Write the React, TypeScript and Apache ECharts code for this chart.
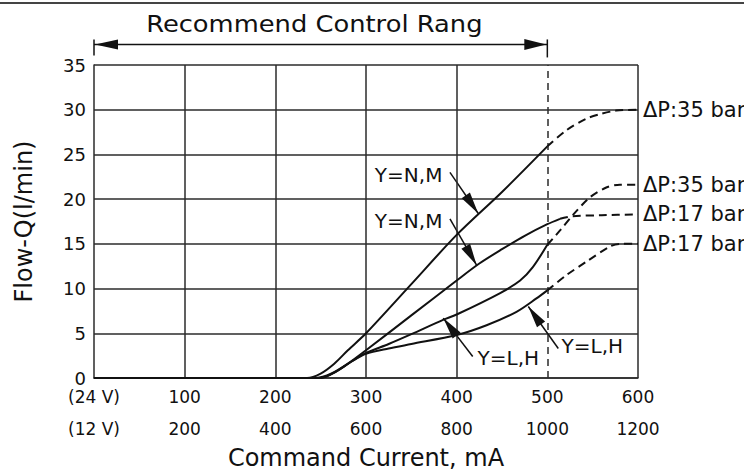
import React, { useEffect, useRef } from "react";
import * as echarts from "echarts";

// ---- tick labels ----
const xTickRow1 = ["(24 V)", "100", "200", "300", "400", "500", "600"];
const xTickRow2 = ["(12 V)", "200", "400", "600", "800", "1000", "1200"];

// ---- curves: [current mA (24 V scale), flow l/min] ----
const curveASolid = [[0, 0], [235, 0], [250, 0.5], [265, 1.6], [280, 3.1], [300, 5.0], [350, 10.5], [400, 16.0], [450, 20.8], [500, 25.9]];
const curveADashed = [[500, 25.9], [521, 27.7], [543, 29.0], [558, 29.5], [576, 29.9], [600, 30.0]];

const curveBSolid = [[0, 0], [245, 0], [262, 0.5], [280, 1.6], [300, 3.1], [350, 7.0], [400, 10.9], [425, 12.8], [450, 14.4], [475, 15.9], [500, 17.2], [514, 17.8]];
const curveBDashed = [[514, 17.8], [528, 18.1], [560, 18.2], [600, 18.3]];

const curveCSolid = [[0, 0], [250, 0], [265, 0.6], [285, 1.9], [300, 2.8], [325, 3.8], [350, 4.9], [385, 6.5], [400, 7.1], [448, 9.5], [470, 10.9], [484, 12.4], [500, 14.9]];
const curveCDashed = [[500, 14.9], [514, 16.5], [528, 18.2], [547, 20.2], [565, 21.3], [580, 21.6], [600, 21.6]];

const curveDSolid = [[0, 0], [250, 0], [265, 0.6], [285, 1.9], [300, 2.7], [325, 3.3], [350, 3.8], [400, 4.8], [433, 5.9], [466, 7.4], [488, 8.9], [500, 9.8]];
const curveDDashed = [[500, 9.8], [521, 11.5], [543, 13.0], [569, 14.7], [580, 15.0], [600, 15.0]];

const endLabelA = "ΔP:35 bar";
const endLabelB = "ΔP:17 bar";
const endLabelC = "ΔP:35 bar";
const endLabelD = "ΔP:17 bar";

// ---- vertical grid lines (current values) ----
const verticalGridValues = [100, 200, 300, 400, 500, 600];
const dashedGridValue = 500;

// ---- recommended range ----
const rangeStart = 0;
const rangeEnd = 500;
const rangeArrowLevel = 37.3;
const rangeTitleAt = 243;
const rangeTitle = "Recommend Control Rang";

// ---- annotations (data units) ----
const annotationLabels = ["Y=N,M", "Y=N,M", "Y=L,H", "Y=L,H"];
const annotationTextAt = [[347, 22.7], [347, 17.6], [457, 2.2], [549.6, 3.6]];
const annotationFrom = [[392.6, 23.0], [392.6, 17.8], [417.7, 2.4], [512.1, 3.3]];
const annotationTo = [[423.8, 18.4], [422.1, 12.6], [385.2, 6.7], [479, 8.0]];

export default function App() {
  const ref = useRef<HTMLDivElement>(null);

  useEffect(() => {
    const chart = echarts.init(ref.current!, null, { renderer: "svg" });
    const font = "DejaVu Sans";
    const ink = "#111";
    const gridInk = "#2b2b2b";

    const solid = (name: string, data: number[][]) => ({
      type: "line",
      name,
      data,
      smooth: 0.3,
      symbol: "none",
      silent: true,
      z: 3,
      lineStyle: { color: ink, width: 2 },
    });
    const dashed = (name: string, data: number[][], label: string) => ({
      ...solid(name, data),
      lineStyle: { color: ink, width: 2, type: [8, 5] },
      endLabel: {
        show: true,
        formatter: label,
        distance: 5,
        fontSize: 21,
        fontFamily: font,
        color: ink,
      },
    });

    const xBase = {
      type: "value",
      min: 0,
      max: 600,
      interval: 100,
      position: "bottom",
      axisTick: { show: false },
      splitLine: { show: false },
    };

    chart.setOption({
      animation: false,
      backgroundColor: "#ffffff",
      grid: { left: 94, right: 106, top: 65, bottom: 95 },
      xAxis: [
        {
          ...xBase,
          name: "Command Current, mA",
          nameLocation: "middle",
          nameGap: 68,
          nameTextStyle: { fontSize: 24, fontFamily: font, color: ink },
          axisLine: { show: true, lineStyle: { color: gridInk, width: 1.5 } },
          axisLabel: {
            margin: 10,
            fontSize: 17,
            lineHeight: 17,
            fontFamily: font,
            color: ink,
            formatter: (v: number) => xTickRow1[Math.round(v / 100)] ?? "",
          },
        },
        {
          ...xBase,
          offset: 33,
          axisLine: { show: false },
          axisLabel: {
            margin: 9,
            fontSize: 17,
            lineHeight: 17,
            fontFamily: font,
            color: ink,
            formatter: (v: number) => xTickRow2[Math.round(v / 100)] ?? "",
          },
        },
      ],
      yAxis: {
        type: "value",
        min: 0,
        max: 35,
        interval: 5,
        name: "Flow-Q(l/min)",
        nameLocation: "middle",
        nameRotate: 90,
        nameGap: 58,
        nameTextStyle: { fontSize: 24, fontFamily: font, color: ink },
        axisLine: { show: true, lineStyle: { color: gridInk, width: 1.5 } },
        axisTick: { show: false },
        axisLabel: { margin: 8, fontSize: 18, lineHeight: 15, fontFamily: font, color: ink },
        splitLine: { show: true, lineStyle: { color: gridInk, width: 1.5 } },
      },
      series: [
        {
          ...solid("A", curveASolid),
          markLine: {
            silent: true,
            symbol: ["none", "none"],
            label: { show: false },
            lineStyle: { color: gridInk, width: 1.5 },
            z: 1,
            data: verticalGridValues.map((v) => ({
              xAxis: v,
              lineStyle: { color: gridInk, width: 1.5, type: v === dashedGridValue ? [7, 5] : "solid" },
            })),
          },
        },
        dashed("A2", curveADashed, endLabelA),
        solid("B", curveBSolid),
        dashed("B2", curveBDashed, endLabelB),
        solid("C", curveCSolid),
        dashed("C2", curveCDashed, endLabelC),
        solid("D", curveDSolid),
        dashed("D2", curveDDashed, endLabelD),
      ],
    });

    const P = (x: number, y: number) =>
      chart.convertToPixel({ gridIndex: 0 } as any, [x, y]) as number[];

    const g: any[] = [];
    // page top rule
    g.push({ type: "line", silent: true, shape: { x1: 0, y1: 3, x2: 744, y2: 3 }, style: { stroke: "#444", lineWidth: 2 } });

    // range arrow
    const [ax0, ay] = P(rangeStart, rangeArrowLevel);
    const [ax1] = P(rangeEnd, rangeArrowLevel);
    g.push({ type: "line", silent: true, shape: { x1: ax0, y1: ay, x2: ax1, y2: ay }, style: { stroke: ink, lineWidth: 1.5 } });
    g.push({ type: "polygon", silent: true, shape: { points: [[ax0 + 1, ay], [ax0 + 24, ay - 5], [ax0 + 24, ay + 5]] }, style: { fill: ink } });
    g.push({ type: "polygon", silent: true, shape: { points: [[ax1 - 1, ay], [ax1 - 23, ay - 5.5], [ax1 - 23, ay + 5.5]] }, style: { fill: ink } });
    g.push({ type: "line", silent: true, shape: { x1: ax0, y1: ay - 5, x2: ax0, y2: ay + 11 }, style: { stroke: ink, lineWidth: 1.5 } });
    g.push({ type: "line", silent: true, shape: { x1: ax1, y1: ay - 5, x2: ax1, y2: ay + 13 }, style: { stroke: ink, lineWidth: 1.5 } });
    const [tx] = P(rangeTitleAt, rangeArrowLevel);
    g.push({
      type: "text",
      silent: true,
      x: tx,
      y: ay - 20,
      scaleX: 1.12,
      style: { text: rangeTitle, fontSize: 23, fontFamily: font, fill: ink, align: "center", verticalAlign: "middle" },
    });

    // annotations
    annotationLabels.forEach((label, i) => {
      const [lx, ly] = P(annotationTextAt[i][0], annotationTextAt[i][1]);
      const [fx, fy] = P(annotationFrom[i][0], annotationFrom[i][1]);
      const [ex, ey] = P(annotationTo[i][0], annotationTo[i][1]);
      g.push({
        type: "text",
        silent: true,
        x: lx,
        y: ly,
        style: { text: label, fontSize: 20, fontFamily: font, fill: ink, align: "center", verticalAlign: "middle" },
      });
      g.push({ type: "line", silent: true, shape: { x1: fx, y1: fy, x2: ex, y2: ey }, style: { stroke: ink, lineWidth: 1.5 } });
      const dx = ex - fx;
      const dy = ey - fy;
      const len = Math.hypot(dx, dy) || 1;
      const ux = dx / len;
      const uy = dy / len;
      const L = 22;
      const W = 5;
      const bx = ex - ux * L;
      const by = ey - uy * L;
      g.push({
        type: "polygon",
        silent: true,
        z: 10,
        shape: { points: [[ex, ey], [bx - uy * W, by + ux * W], [bx + uy * W, by - ux * W]] },
        style: { fill: ink },
      });
    });

    chart.setOption({ graphic: g });

    return () => chart.dispose();
  }, []);

  return (
    <div
      ref={ref}
      style={{ position: "fixed", left: 0, top: 0, width: 744, height: 475, background: "#fff" }}
    />
  );
}
